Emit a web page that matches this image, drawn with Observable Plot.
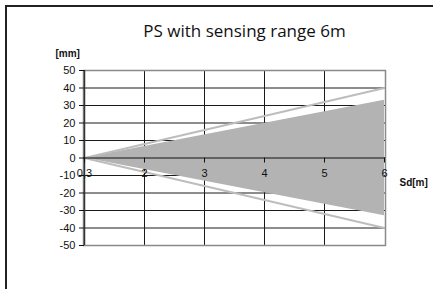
<!DOCTYPE html>
<html><head><meta charset="utf-8">
<script src="https://cdn.jsdelivr.net/npm/d3@7"></script>
<script src="https://cdn.jsdelivr.net/npm/@observablehq/plot@0.6"></script>
<style>
body{margin:0;background:#fff;}
#wrap{position:relative;width:433px;height:289px;overflow:hidden;background:#fff;}
#wrap svg{position:absolute;left:0;top:0;}
#border{position:absolute;left:5px;top:5px;width:460px;height:320px;border-top:2px solid #222;border-left:2px solid #222;pointer-events:none;}
</style></head><body><div id="wrap"><div id="border"></div></div>
<script>
const title = "PS with sensing range 6m";
const yLabel = "[mm]";
const xLabel = "Sd[m]";
const xTicks = ["0,3", "2", "3", "4", "5", "6"];
const yTicks = [50, 40, 30, 20, 10, 0, -10, -20, -30, -40, -50];
const distance = ["0,3", "6"];
const outerUpper = [0, 40];
const outerLower = [0, -40];
const innerUpper = [0, 33];
const innerLower = [0, -33];

const rows = distance.map((d, i) => ({
  d, ou: outerUpper[i], ol: outerLower[i], iu: innerUpper[i], il: innerLower[i]
}));

const chart = Plot.plot({
  width: 433,
  height: 289,
  marginLeft: 83,
  marginRight: 48,
  marginTop: 70,
  marginBottom: 44,
  style: {fontFamily: "Liberation Sans, Arial, sans-serif", fontSize: "11px", background: "transparent", color: "#111"},
  x: {type: "point", domain: xTicks, padding: 0, axis: null},
  y: {domain: [-50, 50], axis: null},
  marks: [
    Plot.ruleY(yTicks, {stroke: "#1a1a1a", strokeWidth: 1}),
    Plot.ruleX(xTicks.slice(1, -1), {stroke: "#1a1a1a", strokeWidth: 1}),
    Plot.areaY(rows, {x: "d", y1: "il", y2: "iu", fill: "#b3b3b3", curve: "linear"}),
    Plot.line(rows, {x: "d", y: "ou", stroke: "#bdbdbd", strokeWidth: 2}),
    Plot.line(rows, {x: "d", y: "ol", stroke: "#bdbdbd", strokeWidth: 2}),
    Plot.frame({stroke: "#8a8a8a", strokeWidth: 1.5}),
    Plot.ruleX([xTicks[0]], {stroke: "#333", strokeWidth: 1.5}),
    Plot.ruleY([0], {stroke: "#111", strokeWidth: 1}),
    Plot.ruleX(xTicks, {y1: () => 0, y2: () => 0, insetBottom: -5, stroke: "#111"}),
    Plot.text(xTicks, {x: d => d, y: () => 0, dy: 15, fill: "#111", fontSize: 11}),
    Plot.ruleY(yTicks, {x1: () => xTicks[0], x2: () => xTicks[0], insetLeft: -5, stroke: "#111"}),
    Plot.text(yTicks, {x: () => xTicks[0], y: d => d, dx: -9, textAnchor: "end", fill: "#111", fontSize: 11}),
    Plot.text([yLabel], {frameAnchor: "top-left", lineAnchor: "middle", dx: -28, dy: -17, textAnchor: "start", fontWeight: "bold", fontSize: 10, fill: "#111"}),
    Plot.text([xLabel], {x: () => xTicks[xTicks.length - 1], y: () => 0, dx: 15, dy: 25, textAnchor: "start", fontWeight: "bold", fontSize: 10, fill: "#111"}),
    Plot.text([title], {frameAnchor: "top", lineAnchor: "middle", dx: 10, dy: -39, fontSize: 17, fill: "#111", fontFamily: "Open Sans, sans-serif"})
  ]
});
document.getElementById("wrap").prepend(chart);
</script>
</body></html>
